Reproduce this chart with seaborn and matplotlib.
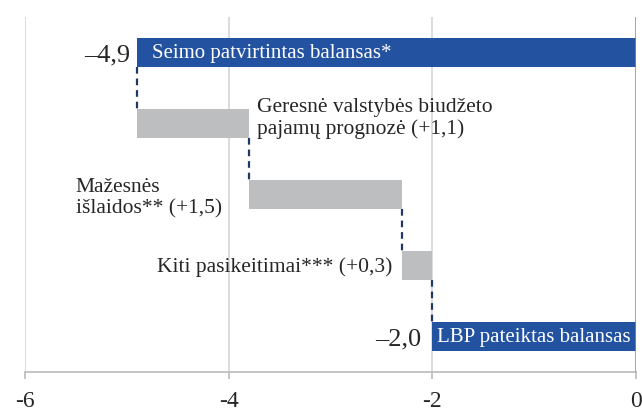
import matplotlib
matplotlib.use("Agg")
import matplotlib.pyplot as plt
import seaborn as sns
import pandas as pd
import numpy as np

# ---- data ----
steps = ["Seimo patvirtintas balansas*",
         "Geresnė valstybės biudžeto\npajamų prognozė (+1,1)",
         "Mažesnės\nišlaidos** (+1,5)",
         "Kiti pasikeitimai*** (+0,3)",
         "LBP pateiktas balansas"]
kinds = ["total", "change", "change", "change", "total"]
starts = [0.0, -4.9, -3.8, -2.3, 0.0]
ends = [-4.9, -3.8, -2.3, -2.0, -2.0]
total_labels = ["–4,9", "–2,0"]
xticks = [-6, -4, -2, 0]
xtick_labels = ["-6", "-4", "-2", "0"]

BLUE = "#2353A0"
GRAY = "#BDBEC0"
NAVY = "#1F3864"

df = pd.DataFrame({"step": steps, "kind": kinds, "start": starts, "end": ends})
df["delta"] = df["end"] - df["start"]

sns.set_theme(style="white")
plt.rcParams["font.family"] = ["Liberation Serif", "DejaVu Serif"]

fig = plt.figure(figsize=(6.42, 4.12), dpi=100)
ax = fig.add_axes([25/642, 40/412, 611/642, 355/412])

tot = df[df.kind == "total"]
chg = df[df.kind == "change"]

sns.barplot(data=tot, x="delta", y="step", order=steps, orient="h",
            color=BLUE, width=0.4, saturation=1, ax=ax, left=tot["start"].values,
            zorder=3, linewidth=0)
sns.barplot(data=chg, x="delta", y="step", order=steps, orient="h",
            color=GRAY, width=0.4, saturation=1, ax=ax, left=chg["start"].values,
            zorder=3, linewidth=0)

ax.set_xlim(-6, 0)
ax.set_ylim(4.5, -0.5)
ax.set_xlabel("")
ax.set_ylabel("")
ax.set_yticks([])

# gridlines
for xv in xticks[:-1]:
    ax.axvline(xv, color="#D9D9D9", lw=1.3, zorder=1)
ax.axvline(0, color="#8C8C8C", lw=1.8, zorder=4)

for s in ["top", "right", "left"]:
    ax.spines[s].set_visible(False)
ax.spines["bottom"].set_color("#BFBFBF")
ax.spines["bottom"].set_linewidth(1.3)

ax.set_xticks(xticks)
ax.set_xticklabels(xtick_labels, fontsize=17, family=["Liberation Serif"])
ax.tick_params(axis="x", length=5, width=1.3, color="#BFBFBF", pad=9, direction="out", bottom=True)

# connectors
h = 0.2
for i in range(len(steps) - 1):
    xv = ends[i]
    ax.plot([xv, xv], [i + h, i + 1 - h], color=NAVY, lw=1.6,
            ls=(0, (3, 2.2)), zorder=2)

# labels inside totals
ax.text(-4.9 + 0.147, 0.02, steps[0], color="white", fontsize=15, va="center", ha="left", zorder=5)
ax.text(-2.0 + 0.05, 4.02, steps[4], color="white", fontsize=15, va="center", ha="left", zorder=5)
ax.text(-4.9 - 0.07, 0.04, total_labels[0], fontsize=19, va="center", ha="right")
ax.text(-2.0 - 0.11, 4.04, total_labels[1], fontsize=19, va="center", ha="right")

# change labels
ax.text(-3.72, 0.93, steps[1], fontsize=15.5, va="center", ha="left", linespacing=1.1)
ax.text(-5.50, 2.05, steps[2], fontsize=15.5, va="center", ha="left", linespacing=1.12)
ax.text(-2.39, 3.02, steps[3], fontsize=15.5, va="center", ha="right")

fig.savefig("out.png", dpi=100)
